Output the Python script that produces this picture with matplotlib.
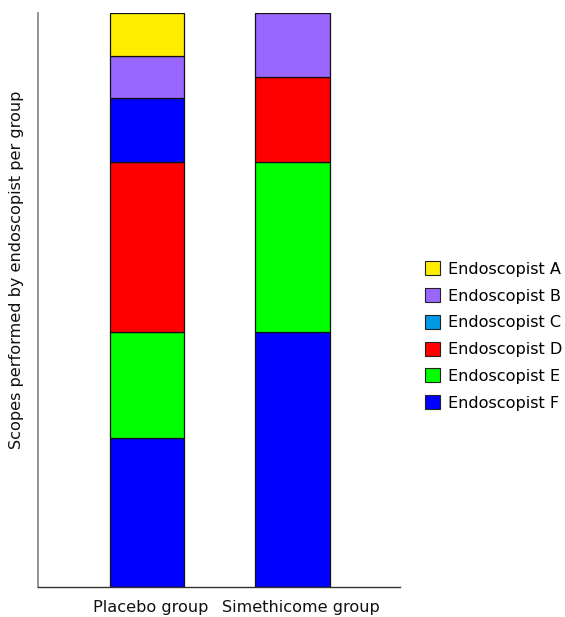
import matplotlib
matplotlib.use("Agg")
import matplotlib.pyplot as plt
from matplotlib.patches import Patch

groups = ["Placebo group", "Simethicome group"]
endoscopists = ["Endoscopist A", "Endoscopist B", "Endoscopist C",
                "Endoscopist D", "Endoscopist E", "Endoscopist F"]
legend_colors = ["#ffee00", "#9966ff", "#0099e6", "#ff0000", "#00ff00", "#0000ff"]

# counts per group, stacked bottom-to-top
placebo_segments = ["Endoscopist F", "Endoscopist E", "Endoscopist D",
                    "Endoscopist C", "Endoscopist B", "Endoscopist A"]
placebo_values = [7, 5, 8, 3, 2, 2]
placebo_colors = ["#0000ff", "#00ff00", "#ff0000", "#0000ff", "#9966ff", "#ffee00"]

simethicone_segments = ["Endoscopist F", "Endoscopist E", "Endoscopist D", "Endoscopist B"]
simethicone_values = [12, 8, 4, 3]
simethicone_colors = ["#0000ff", "#00ff00", "#ff0000", "#9966ff"]

W, H = 565, 617
FS = 11.6
fig = plt.figure(figsize=(W / 100, H / 100), dpi=100)
plt.rcParams['font.family'] = ['DejaVu Sans']
ax = fig.add_axes([38 / W, 1 - 587 / H, (400 - 38) / W, (587 - 13) / H])

bar_w = 0.51
for xi, vals, cols in [(0, placebo_values, placebo_colors),
                       (1, simethicone_values, simethicone_colors)]:
    bottom = 0
    for v, c in zip(vals, cols):
        ax.bar(xi, v, bottom=bottom, width=bar_w, color=c,
               edgecolor="#111111", linewidth=0.9)
        bottom += v

ax.set_xlim(-0.749, 1.739)
ax.set_ylim(0, sum(placebo_values))
ax.set_yticks([])
ax.set_xticks([0.027, 1.055])
ax.set_xticklabels(groups, fontsize=FS, color="#111111")
ax.tick_params(axis="x", length=0, pad=9.5)
for s in ["top", "right"]:
    ax.spines[s].set_visible(False)
ax.spines["left"].set_color("#808080")
ax.spines["bottom"].set_color("#333333")
ax.spines["left"].set_linewidth(1.2)
ax.spines["bottom"].set_linewidth(1.0)

fig.text(17 / W, 1 - 270 / H, "Scopes performed by endoscopist per group",
         rotation=90, ha="center", va="center", fontsize=FS, color="#111111")

handles = [Patch(facecolor=c, edgecolor="#222222", linewidth=0.8) for c in legend_colors]
leg = fig.legend(handles, endoscopists, loc="center left",
                 bbox_to_anchor=(425 / W, 1 - 336 / H), frameon=False,
                 fontsize=FS, handlelength=0.95, handleheight=0.95,
                 handletextpad=0.5, labelspacing=0.7, borderpad=0,
                 borderaxespad=0)

fig.savefig("out.png", dpi=100)
